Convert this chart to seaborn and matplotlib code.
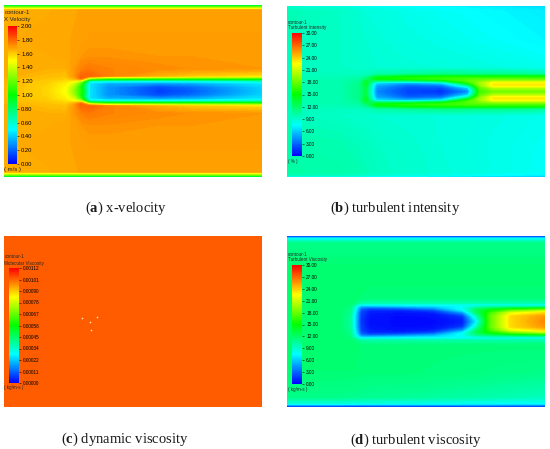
import numpy as np
import matplotlib
matplotlib.use("Agg")
import matplotlib.pyplot as plt
import seaborn as sns
from matplotlib.colors import Normalize
from matplotlib.cm import ScalarMappable

# ---------------- (a) x-velocity [m/s] ----------------
a_x = [0.0, 0.25, 0.36, 0.41, 0.45, 0.50, 0.60, 0.90, 1.10, 1.50]
a_wake_y = [0.0, 0.025, 0.045, 0.058, 0.068, 0.078, 0.088, 0.13, 0.2]
a_wake = [
    [1.64, 1.58, 1.48, 1.25, 1.05, 0.45, 0.30, 0.12, 0.18, 0.40],
    [1.64, 1.58, 1.50, 1.30, 1.00, 0.45, 0.30, 0.15, 0.22, 0.42],
    [1.64, 1.59, 1.52, 1.40, 1.10, 0.45, 0.35, 0.30, 0.34, 0.46],
    [1.64, 1.60, 1.55, 1.50, 1.35, 0.60, 0.55, 0.52, 0.54, 0.60],
    [1.65, 1.61, 1.58, 1.62, 1.70, 1.05, 0.95, 0.92, 0.92, 0.92],
    [1.65, 1.62, 1.60, 1.68, 1.82, 1.55, 1.35, 1.30, 1.28, 1.25],
    [1.66, 1.63, 1.62, 1.70, 1.80, 1.80, 1.75, 1.65, 1.60, 1.55],
    [1.66, 1.65, 1.65, 1.70, 1.74, 1.76, 1.74, 1.72, 1.71, 1.70],
    [1.66, 1.66, 1.67, 1.68, 1.70, 1.71, 1.71, 1.70, 1.70, 1.69],
]
a_far_y = [0.3, 0.47, 0.49, 0.5]
a_upper = [
    [1.66, 1.67, 1.67, 1.68, 1.68, 1.69, 1.69, 1.69, 1.69, 1.69],
    [1.66, 1.66, 1.67, 1.67, 1.68, 1.68, 1.68, 1.68, 1.68, 1.68],
    [1.15, 1.15, 1.15, 1.15, 1.15, 1.15, 1.15, 1.15, 1.15, 1.15],
    [0.60, 0.60, 0.60, 0.60, 0.60, 0.60, 0.60, 0.60, 0.60, 0.60],
]
a_lower = a_upper
a_ticks = [0.0, 0.2, 0.4, 0.6, 0.8, 1.0, 1.2, 1.4, 1.6, 1.8, 2.0]
a_labels = ["0.00", "0.20", "0.40", "0.60", "0.80", "1.00",
            "1.20", "1.40", "1.60", "1.80", "2.00"]

# ---------------- (b) turbulent intensity [%] ----------------
b_x = [0.0, 0.30, 0.42, 0.46, 0.52, 0.70, 0.90, 1.05, 1.12, 1.20, 1.35, 1.50]
b_wake_y = [0.0, 0.02, 0.035, 0.05, 0.062, 0.075, 0.088, 0.10, 0.14]
b_wake = [
    [9.8, 9.8, 11.0, 13.0, 4.0, 2.0, 1.5, 4.0, 16.5, 18.0, 18.0, 18.0],
    [9.8, 9.8, 11.0, 13.0, 4.5, 2.3, 2.2, 6.0, 17.5, 20.0, 20.0, 20.0],
    [9.8, 9.8, 11.0, 13.5, 5.0, 3.0, 3.5, 10.0, 19.0, 23.0, 23.0, 23.0],
    [9.8, 9.8, 10.8, 14.0, 6.5, 5.0, 6.5, 15.5, 19.5, 22.5, 22.5, 22.5],
    [9.8, 9.8, 10.5, 13.0, 11.0, 11.0, 13.0, 17.5, 18.5, 19.5, 19.5, 19.5],
    [9.7, 9.7, 10.2, 11.5, 15.0, 16.0, 16.5, 17.0, 17.0, 17.0, 17.0, 17.0],
    [9.6, 9.6, 9.8, 10.5, 13.0, 14.5, 15.0, 15.0, 15.0, 15.0, 15.0, 15.0],
    [9.5, 9.4, 9.3, 9.5, 10.0, 10.5, 11.0, 11.0, 11.0, 11.0, 10.8, 10.5],
    [9.4, 9.2, 9.0, 9.0, 8.8, 8.7, 8.6, 8.5, 8.4, 8.3, 8.2, 8.0],
]
b_far_y = [0.3, 0.47, 0.49, 0.5]
b_upper = [
    [9.6, 9.2, 8.9, 8.8, 8.7, 8.4, 8.1, 7.9, 7.8, 7.7, 7.5, 7.3],
    [9.7, 9.2, 8.8, 8.6, 8.5, 8.1, 7.8, 7.6, 7.5, 7.4, 7.2, 7.0],
    [9.2, 8.8, 8.5, 8.3, 8.1, 7.8, 7.5, 7.3, 7.2, 7.1, 6.9, 6.7],
    [8.5, 8.2, 8.0, 7.8, 7.6, 7.3, 7.0, 6.8, 6.7, 6.6, 6.4, 6.2],
]
b_lower = [
    [10.0, 9.8, 9.5, 9.4, 9.2, 8.9, 8.6, 8.4, 8.3, 8.2, 8.0, 7.8],
    [10.2, 10.0, 9.8, 9.6, 9.4, 9.0, 8.7, 8.5, 8.4, 8.2, 8.0, 7.7],
    [9.6, 9.4, 9.2, 9.0, 8.8, 8.4, 8.1, 7.8, 7.7, 7.5, 7.3, 7.0],
    [7.0, 7.0, 6.8, 6.6, 6.4, 6.2, 6.0, 5.8, 5.7, 5.6, 5.4, 5.2],
]
b_ticks = [0, 3, 6, 9, 12, 15, 18, 21, 24, 27, 30]
b_labels = ["0.00", "3.00", "6.00", "9.00", "12.00", "15.00",
            "18.00", "21.00", "24.00", "27.00", "30.00"]

# ---------------- (c) dynamic viscosity [kg/m-s] ----------------
c_x = [0.0, 1.5]
c_y = [-0.5, 0.5]
c_field = [[0.00102, 0.00102], [0.00102, 0.00102]]
c_probe_x = [0.453, 0.500, 0.541, 0.506]
c_probe_y = [0.020, -0.003, 0.026, -0.050]
c_ticks = [0.0, 0.000112, 0.000224, 0.000336, 0.000448, 0.00056,
           0.000672, 0.000784, 0.000896, 0.001008, 0.00112]
c_labels = ["0.00000", "0.00011", "0.00022", "0.00034", "0.00045", "0.00056",
            "0.00067", "0.00078", "0.00090", "0.00101", "0.00112"]

# ---------------- (d) turbulent viscosity [kg/m-s] ----------------
d_x = [0.0, 0.30, 0.37, 0.40, 0.43, 0.48, 0.65, 0.85, 1.02, 1.10, 1.18, 1.30, 1.50]
d_wake_y = [0.0, 0.03, 0.05, 0.065, 0.078, 0.09, 0.10, 0.11, 0.14]
d_wake = [
    [11.8, 11.8, 10.5, 6.0, 1.5, 0.5, 0.3, 0.3, 0.8, 7.0, 17.5, 23.5, 26.0],
    [11.8, 11.8, 10.5, 6.0, 1.8, 0.6, 0.3, 0.4, 1.5, 9.0, 17.5, 23.5, 25.5],
    [11.8, 11.8, 10.8, 6.5, 2.0, 0.8, 0.5, 0.8, 4.0, 11.5, 16.5, 21.5, 23.5],
    [11.8, 11.8, 11.0, 7.0, 2.5, 1.2, 1.0, 2.0, 7.0, 12.5, 15.0, 17.5, 19.5],
    [11.8, 11.8, 11.2, 7.5, 3.5, 2.5, 3.0, 4.5, 8.0, 11.0, 12.0, 13.0, 14.0],
    [11.8, 11.8, 11.4, 8.5, 5.5, 5.5, 6.0, 6.5, 7.5, 8.5, 9.0, 9.0, 9.0],
    [11.8, 11.8, 11.6, 10.0, 8.0, 8.0, 8.0, 8.0, 8.0, 8.0, 8.0, 8.0, 8.0],
    [11.8, 11.8, 11.8, 11.2, 10.0, 10.0, 10.0, 10.0, 10.0, 10.0, 10.0, 10.0, 10.0],
    [11.8, 11.8, 11.8, 11.8, 11.6, 11.5, 11.5, 11.5, 11.5, 11.5, 11.5, 11.5, 11.5],
]
d_upper_y = [0.3, 0.46, 0.485, 0.495, 0.5]
d_upper = [
    [11.8] * 13,
    [11.0] * 13,
    [7.5] * 13,
    [2.5] * 13,
    [0.0] * 13,
]
d_lower_y = [0.3, 0.44, 0.48, 0.495, 0.5]
d_lower = [
    [11.6, 11.6, 11.6, 11.6, 11.5, 11.5, 11.5, 11.4, 11.3, 11.3, 11.2, 11.1, 11.0],
    [11.0, 11.0, 10.9, 10.9, 10.8, 10.7, 10.6, 10.4, 10.2, 10.1, 10.0, 9.8, 9.5],
    [8.5, 8.5, 8.4, 8.4, 8.3, 8.3, 8.2, 8.0, 7.9, 7.8, 7.7, 7.6, 7.5],
    [2.0] * 13,
    [0.0] * 13,
]
d_ticks = b_ticks
d_labels = b_labels

W, H = 550, 449

sns.set_theme(style="white")
plt.rcParams["font.family"] = ["Liberation Sans", "DejaVu Sans"]
plt.rcParams["mathtext.fontset"] = "custom"
plt.rcParams["mathtext.rm"] = "Liberation Serif"
plt.rcParams["mathtext.bf"] = "Liberation Serif:bold"

# Fluent-style blue -> cyan -> green -> yellow -> red
cmap = sns.blend_palette(["#0000ff", "#00ffff", "#00ff00", "#ffff00", "#ff0000"],
                         as_cmap=True)


def box(x0, y0, x1, y1):
    """pixel box (top-left origin) -> figure fraction rect"""
    return [x0 / W, 1 - y1 / H, (x1 - x0) / W, (y1 - y0) / H]


def build_field(wake_y, wake, upper_y, upper, lower_y, lower):
    wake = np.asarray(wake)
    y = np.concatenate([-np.asarray(lower_y)[::-1], -np.asarray(wake_y)[:0:-1],
                        np.asarray(wake_y), np.asarray(upper_y)])
    z = np.vstack([np.asarray(lower)[::-1], wake[:0:-1], wake, np.asarray(upper)])
    return y, z


def draw_field(fig, rect, x, y, z, vmax):
    ax = fig.add_axes(rect)
    ax.contourf(x, y, z, levels=np.linspace(0, vmax, 161), cmap=cmap,
                extend="both", antialiased=False)
    ax.set_xlim(0, 1.5)
    ax.set_ylim(-0.5, 0.5)
    ax.set_axis_off()
    return ax


def draw_legend(fig, rect, vmax, ticks, labels, fs):
    cax = fig.add_axes(rect)
    sm = ScalarMappable(norm=Normalize(0, vmax), cmap=cmap)
    cb = fig.colorbar(sm, cax=cax, ticks=ticks)
    cb.ax.set_yticklabels(labels)
    cb.ax.tick_params(labelsize=fs, length=1.5, width=0.4, pad=1.5,
                      colors="black", direction="out")
    cb.outline.set_visible(False)


def px_text(fig, x, y, s, fs, **kw):
    fig.text(x / W, 1 - y / H, s, fontsize=fs, va="center", ha="left", **kw)


fig = plt.figure(figsize=(W / 100, H / 100), dpi=100)

# (a)
y, z = build_field(a_wake_y, a_wake, a_far_y, a_upper, a_far_y, a_lower)
draw_field(fig, box(4, 5, 262, 177), a_x, y, z, 2.0)
draw_legend(fig, box(8, 26, 17, 164), 2.0, a_ticks, a_labels, 4.2)
px_text(fig, 4.5, 13, "contour-1", 4.3)
px_text(fig, 4.5, 19, "X Velocity", 4.3)
px_text(fig, 4.5, 170, "( m/s )", 4.3)

# (b)
y, z = build_field(b_wake_y, b_wake, b_far_y, b_upper, b_far_y, b_lower)
draw_field(fig, box(287, 6, 545, 177), b_x, y, z, 30)
draw_legend(fig, box(292, 33, 302, 156), 30, b_ticks, b_labels, 3.4)
px_text(fig, 288, 22, "contour-1", 3.3)
px_text(fig, 288, 27, "Turbulent Intensity", 3.3)
px_text(fig, 288.5, 162, "( % )", 3.3)

# (c)
ax_c = draw_field(fig, box(4, 236, 262, 407), c_x, c_y, c_field, 0.00112)
ax_c.scatter(c_probe_x, c_probe_y, marker="+", s=4, linewidths=0.5,
             color="#ffd8b8")
draw_legend(fig, box(9, 268, 19, 383), 0.00112, c_ticks, c_labels, 3.4)
px_text(fig, 4.5, 257, "contour-1", 3.3)
px_text(fig, 4.5, 263, "Molecular Viscosity", 3.3)
px_text(fig, 4.5, 387, "( kg/m-s )", 3.3)

# (d)
y, z = build_field(d_wake_y, d_wake, d_upper_y, d_upper, d_lower_y, d_lower)
draw_field(fig, box(287, 236, 545, 407), d_x, y, z, 30)
draw_legend(fig, box(292, 265, 302, 384), 30, d_ticks, d_labels, 3.4)
px_text(fig, 288, 255, "contour-1", 3.3)
px_text(fig, 288, 260, "Turbulent Viscosity", 3.3)
px_text(fig, 288, 390, "( kg/m-s )", 3.3)

# captions
captions = [(126, 208, r"($\mathbf{a}$) x-velocity"),
            (395, 208, r"($\mathbf{b}$) turbulent intensity"),
            (125, 439, r"($\mathbf{c}$) dynamic viscosity"),
            (416, 440, r"($\mathbf{d}$) turbulent viscosity")]
for cx, cy, s in captions:
    fig.text(cx / W, 1 - cy / H, s, fontsize=10.5, ha="center", va="center",
             family="Liberation Serif", color="#1a1a1a")

fig.savefig("out.png", dpi=100)
